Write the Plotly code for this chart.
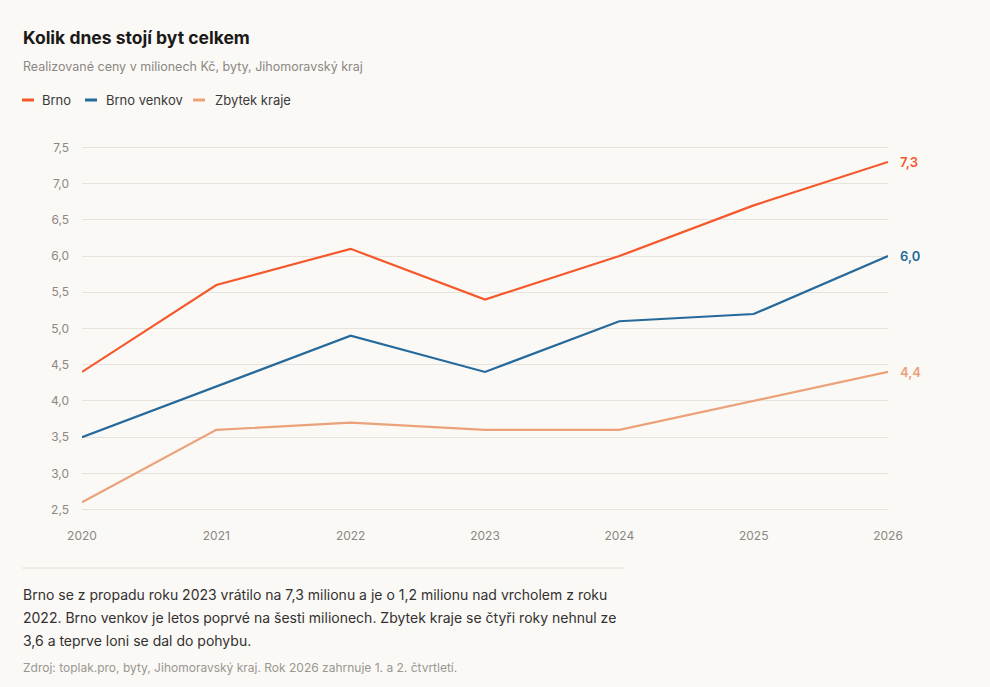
import plotly.graph_objects as go

years = [2020, 2021, 2022, 2023, 2024, 2025, 2026]
brno = [4.4, 5.6, 6.1, 5.4, 6.0, 6.7, 7.3]
brno_venkov = [3.5, 4.2, 4.9, 4.4, 5.1, 5.2, 6.0]
zbytek_kraje = [2.6, 3.6, 3.7, 3.6, 3.6, 4.0, 4.4]

series_names = ['Brno', 'Brno venkov', 'Zbytek kraje']
series_values = [brno, brno_venkov, zbytek_kraje]
series_colors = ['#f4582b', '#26699b', '#eba27a']
end_labels = ['7,3', '6,0', '4,4']

y_ticks = [2.5, 3.0, 3.5, 4.0, 4.5, 5.0, 5.5, 6.0, 6.5, 7.0, 7.5]

bg = '#faf9f6'
font_family = 'Inter, Roboto, sans-serif'

# plot area in pixels (used to place the outside text)
W, H = 990, 687
L, R, T, B = 82, 888, 146, 511


def px_x(px):
    return (px - L) / (R - L)


def px_y(py):
    return (B - py) / (B - T)


fig = go.Figure()

for name, vals, color, lab in zip(series_names, series_values, series_colors, end_labels):
    fig.add_trace(go.Scatter(
        x=years, y=vals, name=name, mode='lines',
        line=dict(color=color, width=2.2),
        showlegend=False,
        hoverinfo='skip'
    ))
    # value label at the end of each line
    fig.add_annotation(
        x=years[-1], y=vals[-1], text=lab,
        showarrow=False, xanchor='left', xshift=10,
        font=dict(size=13, color=color, family=font_family, weight=600)
    )

# custom legend with short line swatches
legend_pos = [(22, 40), (85, 104), (193, 213)]
for (lx, tx), name, color in zip(legend_pos, series_names, series_colors):
    fig.add_shape(
        type='line', xref='paper', yref='paper',
        x0=px_x(lx), x1=px_x(lx + 12), y0=px_y(100), y1=px_y(100),
        line=dict(color=color, width=3)
    )
    fig.add_annotation(
        xref='paper', yref='paper', x=px_x(tx), y=px_y(100),
        text=name, showarrow=False, xanchor='left', yanchor='middle',
        font=dict(size=13, color='#3a3a3a', family=font_family)
    )

# title + subtitle
fig.add_annotation(
    xref='paper', yref='paper', x=px_x(21), y=px_y(37),
    text='<b>Kolik dnes stojí byt celkem</b>', showarrow=False,
    xanchor='left', yanchor='middle',
    font=dict(size=17.5, color='#1c1a18', family=font_family)
)
fig.add_annotation(
    xref='paper', yref='paper', x=px_x(21), y=px_y(66),
    text='Realizované ceny v milionech Kč, byty, Jihomoravský kraj', showarrow=False,
    xanchor='left', yanchor='middle',
    font=dict(size=12.5, color='#8c8782', family=font_family)
)

# separator under the chart
fig.add_shape(
    type='line', xref='paper', yref='paper',
    x0=px_x(22), x1=px_x(624), y0=px_y(568), y1=px_y(568),
    line=dict(color='#e3e0da', width=1)
)

note_lines = [
    'Brno se z propadu roku 2023 vrátilo na 7,3 milionu a je o 1,2 milionu nad vrcholem z roku',
    '2022. Brno venkov je letos poprvé na šesti milionech. Zbytek kraje se čtyři roky nehnul ze',
    '3,6 a teprve loni se dal do pohybu.',
]
for i, line in enumerate(note_lines):
    fig.add_annotation(
        xref='paper', yref='paper', x=px_x(21), y=px_y(594 + i * 23),
        text=line, showarrow=False, xanchor='left', yanchor='middle',
        font=dict(size=14, color='#333130', family=font_family)
    )

fig.add_annotation(
    xref='paper', yref='paper', x=px_x(21), y=px_y(667),
    text='Zdroj: toplak.pro, byty, Jihomoravský kraj. Rok 2026 zahrnuje 1. a 2. čtvrtletí.',
    showarrow=False, xanchor='left', yanchor='middle',
    font=dict(size=12, color='#9b9691', family=font_family)
)

fig.update_layout(
    width=W, height=H,
    margin=dict(l=L, r=W - R, t=T, b=H - B, pad=0),
    paper_bgcolor=bg,
    plot_bgcolor=bg,
    separators=', ',
    font=dict(family=font_family, size=12, color='#8c8782'),
    xaxis=dict(
        range=[2020, 2026],
        tickvals=years,
        ticktext=[str(y) for y in years],
        showgrid=False, zeroline=False, showline=False,
        ticks='', ticklabelstandoff=16,
        tickfont=dict(size=12, color='#8c8782')
    ),
    yaxis=dict(
        range=[2.48, 7.52],
        tickvals=y_ticks,
        tickformat='.1f',
        showgrid=True, gridcolor='#e6e3de', gridwidth=1,
        zeroline=False, showline=False,
        ticks='', ticklabelstandoff=12,
        tickfont=dict(size=12, color='#8c8782')
    ),
    showlegend=False
)

# drop the default page margin so the figure sits at the window's top-left corner
fig.write_html(
    'out.html',
    config={'displayModeBar': False},
    post_script="document.body.style.margin='0';"
)
